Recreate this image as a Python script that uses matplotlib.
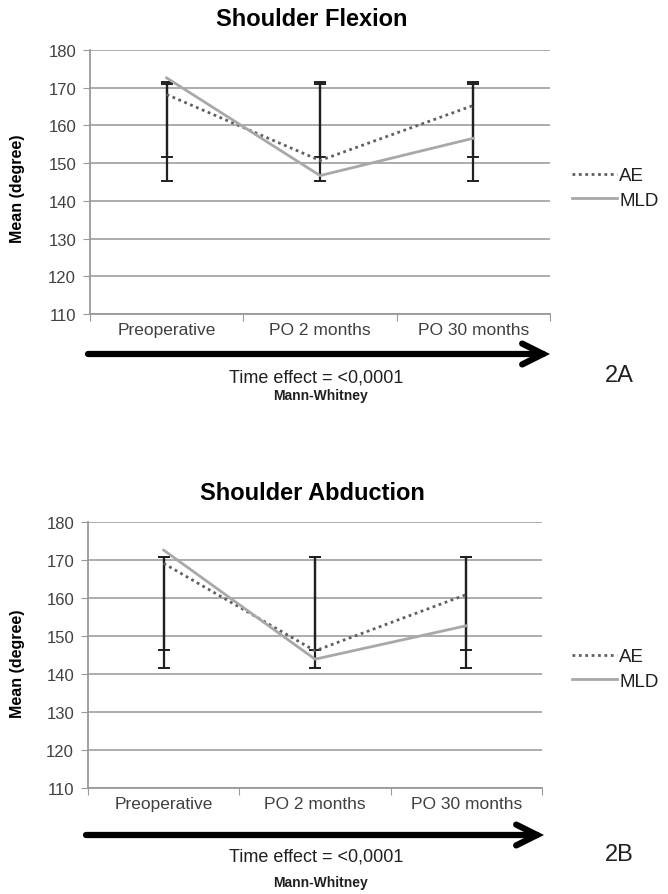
import numpy as np
import matplotlib.pyplot as plt

plt.rcParams['font.family'] = ['Liberation Sans', 'DejaVu Sans']

categories = ['Preoperative', 'PO 2 months', 'PO 30 months']
yticks = [110, 120, 130, 140, 150, 160, 170, 180]

# Shoulder flexion (2A)
flex_ae = [168.2, 150.7, 165.3]
flex_mld = [172.6, 146.7, 156.6]
flex_err1_low = [151.6, 151.6, 151.6]
flex_err1_high = [171.0, 171.0, 171.0]
flex_err2_low = [145.2, 145.2, 145.2]
flex_err2_high = [171.6, 171.6, 171.6]

# Shoulder abduction (2B)
abd_ae = [169.1, 146.1, 160.9]
abd_mld = [172.6, 143.9, 152.7]
abd_err1_low = [146.3, 146.3, 146.3]
abd_err1_high = [170.8, 170.8, 170.8]
abd_err2_low = [141.5, 141.5, 141.5]
abd_err2_high = [170.8, 170.8, 170.8]

W, H = 668, 895
fig = plt.figure(figsize=(W / 100, H / 100), dpi=100)

GRID = '#a6a6a6'
TXT = '#404040'


def px(x, y):
    return x / W, 1 - y / H


def draw_panel(rect, title, title_y, ae, mld, errs, legend_y, arrow_y, arrow_x, time_y, mw_y, tag, tag_y, ylab_y):
    ax = fig.add_axes(rect)
    x = np.arange(len(categories)) + 0.5
    ax.set_xlim(0, 3)
    ax.set_ylim(110, 180)
    ax.set_yticks(yticks)
    ax.yaxis.grid(True, color=GRID, lw=1.3)
    ax.set_axisbelow(True)
    for s in ['top', 'right']:
        ax.spines[s].set_visible(False)
    for s in ['left', 'bottom']:
        ax.spines[s].set_color('#999999')
        ax.spines[s].set_linewidth(1.3)
    ax.set_xticks([0, 1, 2, 3])
    ax.set_xticklabels([])
    ax.set_xticks(x, minor=True)
    ax.set_xticklabels(categories, minor=True, fontsize=12.5, color=TXT)
    ax.tick_params(axis='x', which='minor', length=0, pad=6)
    ax.tick_params(axis='x', which='major', length=5, color='#999999', direction='out')
    ax.tick_params(axis='y', length=5, color='#999999', labelsize=12, labelcolor=TXT, pad=5)
    for lo, hi in errs:
        lo = np.array(lo)
        hi = np.array(hi)
        mid = (lo + hi) / 2
        ax.errorbar(x, mid, yerr=[mid - lo, hi - mid], fmt='none', ecolor='#202020',
                    elinewidth=1.6, capsize=4, capthick=1.4, zorder=3)
    ax.plot(x, ae, color='#606060', lw=2, ls=(0, (1, 1.3)), label='AE', zorder=4)
    ax.plot(x, mld, color='#a8a8a8', lw=2, label='MLD', zorder=4)
    ax.legend(loc='center left', bbox_to_anchor=px(572, legend_y), bbox_transform=fig.transFigure,
              frameon=False, fontsize=13.5, handlelength=2.4, handletextpad=0.12, labelspacing=0.38,
              borderpad=0, borderaxespad=0, labelcolor='#202020')
    fig.text(px(312, 0)[0], px(0, title_y)[1], title, ha='center', va='center', fontsize=17, fontweight='bold')
    fig.text(px(18, 0)[0], px(0, ylab_y)[1], 'Mean (degree)', rotation=90, ha='center', va='center',
             fontsize=11.5, fontweight='bold')
    fig.add_artist(plt.Annotation('', xy=px(arrow_x[1], arrow_y), xytext=px(arrow_x[0], arrow_y),
                                  xycoords='figure fraction', textcoords='figure fraction',
                                  arrowprops=dict(arrowstyle='->,head_length=1.5,head_width=0.75',
                                                  lw=4.5, color='black', shrinkA=0, shrinkB=0,
                                                  capstyle='round', joinstyle='miter')))
    fig.text(px(316, 0)[0], px(0, time_y)[1], 'Time effect = <0,0001', ha='center', va='center', fontsize=13,
             color='#202020')
    fig.text(px(320, 0)[0], px(0, mw_y)[1], 'Mann-Whitney', ha='center', va='center', fontsize=10,
             fontweight='bold', color='#202020')
    fig.text(px(619, 0)[0], px(0, tag_y)[1], tag, ha='center', va='center', fontsize=17, color='#202020')
    return ax


draw_panel([90 / W, 1 - 315 / H, 460 / W, 264 / H], 'Shoulder Flexion', 20,
           flex_ae, flex_mld,
           [(flex_err1_low, flex_err1_high), (flex_err2_low, flex_err2_high)],
           189, 355, (88, 550), 378, 396, '2A', 376, 189)

draw_panel([88 / W, 1 - 789 / H, 454 / W, 266 / H], 'Shoulder Abduction', 494,
           abd_ae, abd_mld,
           [(abd_err1_low, abd_err1_high), (abd_err2_low, abd_err2_high)],
           670, 836, (86, 544), 857, 883, '2B', 855, 664)

fig.savefig('out.png', dpi=100)
